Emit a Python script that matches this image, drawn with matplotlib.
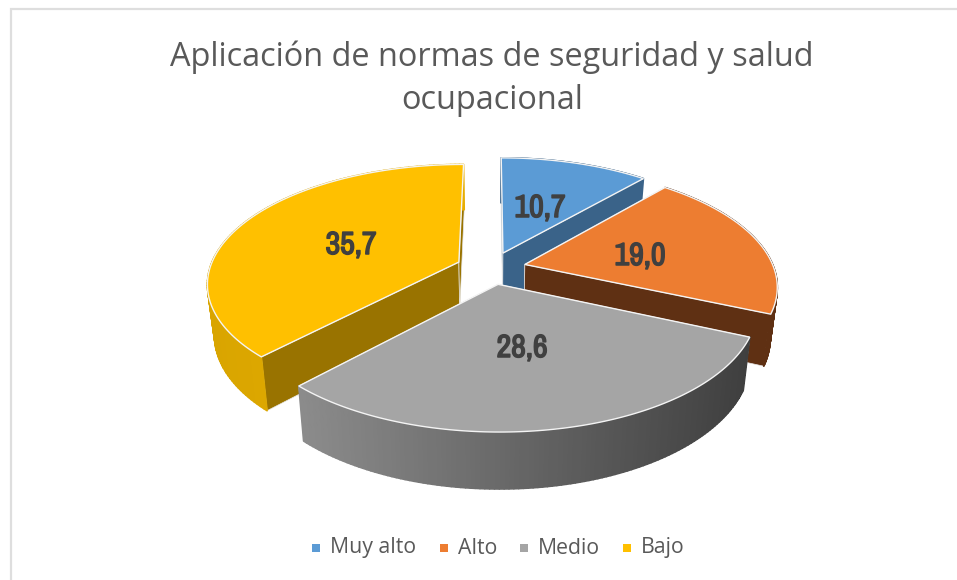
import numpy as np
import matplotlib
matplotlib.use("Agg")
import matplotlib.pyplot as plt
import matplotlib.patheffects as pe
from matplotlib import font_manager as fm
from matplotlib.collections import PolyCollection
from matplotlib.colors import to_rgb

categories = ["Muy alto", "Alto", "Medio", "Bajo"]
values = [10.7, 19.0, 28.6, 35.7]
labels = ["10,7", "19,0", "28,6", "35,7"]
title = "Aplicación de normas de seguridad y salud\nocupacional"

top_colors = ["#5B9BD5", "#ED7D31", "#A5A5A5", "#FFC000"]
cut_colors = ["#3A6389", "#5F3013", "#4A4A4A", "#997300"]
wall_left = ["#3A6389", "#5F3013", "#8C8C8C", "#D9A500"]
wall_right = ["#3A6389", "#5F3013", "#3F3F3F", "#E8AE00"]
label_xy = [(540, 208), (640, 256), (522, 348), (351, 245)]
legend_sq = [316, 444, 524, 627]
draw_order = [0, 3, 1, 2]

CX, CY, B, A, K = 491.0, 268.0, 249.0, 116.2, 0.171
EXPLODE, DEPTH, POWER, SHRINK = 0.14, 50.0, 0.6, 0.025

narrow = sorted({f.name for f in fm.fontManager.ttflist
                 if "narrow" in f.name.lower() or "condensed" in f.name.lower()})
label_family = narrow[:1] + ["Liberation Sans"]
label_size = 23 if narrow else 21


def project(u, v, low=False):
    u, v = np.asarray(u, float), np.asarray(v, float)
    w = 1 + K * v
    x = CX + B * u / w
    y = CY - A * v / w
    if low:
        x = CX + (x - CX) * (1 - SHRINK)
        y = y + DEPTH / w ** POWER
    return np.column_stack([x, y])


fig = plt.figure(figsize=(9.57, 5.80), dpi=100)
ax = fig.add_axes([0, 0, 1, 1])
ax.set_xlim(0, 957)
ax.set_ylim(580, 0)
ax.axis("off")
ax.plot([11, 11, 957], [580, 9, 9], color="#DEDEDE", lw=1.6, solid_joinstyle="miter")

fractions = np.array(values) / np.sum(values)
edges = np.concatenate([[0], np.cumsum(fractions)]) * 2 * np.pi

for rank, i in enumerate(draw_order):
    z = 2 + rank
    a0, a1 = edges[i], edges[i + 1]
    mid = (a0 + a1) / 2
    ou, ov = EXPLODE * np.sin(mid), EXPLODE * np.cos(mid)
    t = np.linspace(a0, a1, 120)
    u, v = ou + np.sin(t), ov + np.cos(t)
    hi, lo = project(u, v), project(u, v, True)
    apex_hi = project([ou], [ov])
    apex_lo = project([ou], [ov], True)
    for k in (0, -1):
        quad = np.vstack([apex_hi, hi[k], lo[k], apex_lo])
        ax.fill(quad[:, 0], quad[:, 1], fc=cut_colors[i], ec="#E8E8E8", lw=0.5, zorder=z)
    quads = [np.vstack([hi[j], hi[j + 1], lo[j + 1], lo[j]]) for j in range(len(t) - 1)]
    xs = hi[:, 0]
    p = (xs[:-1] - xs.min()) / max(xs.max() - xs.min(), 1)
    c0, c1 = np.array(to_rgb(wall_left[i])), np.array(to_rgb(wall_right[i]))
    cols = [tuple(c0 + (c1 - c0) * q) for q in p]
    ax.add_collection(PolyCollection(quads, facecolors=cols, edgecolors=cols, lw=1.2, zorder=z))
    poly = np.vstack([apex_hi, hi])
    ax.fill(poly[:, 0], poly[:, 1], fc=top_colors[i], ec="#F4F4F4", lw=1.0, zorder=z,
            joinstyle="miter")

for lab, (x, y) in zip(labels, label_xy):
    ax.text(x, y, lab, ha="center", va="center", fontsize=label_size, fontweight="bold",
            color="#404040", family=label_family, zorder=10,
            path_effects=[pe.withStroke(linewidth=1.1, foreground="#404040")])

ax.text(492, 79, title, ha="center", va="center", fontsize=23.4, color="#595959",
        family="Open Sans", linespacing=1.4, zorder=10)

for name, col, x in zip(categories, top_colors, legend_sq):
    ax.scatter([x], [548], marker="s", s=36, color=col, lw=0, zorder=10)
    ax.text(x + 13.5, 548, name, ha="left", va="center", fontsize=15.3, color="#595959",
            family="Open Sans", zorder=10)

fig.savefig("out.png", dpi=100)
